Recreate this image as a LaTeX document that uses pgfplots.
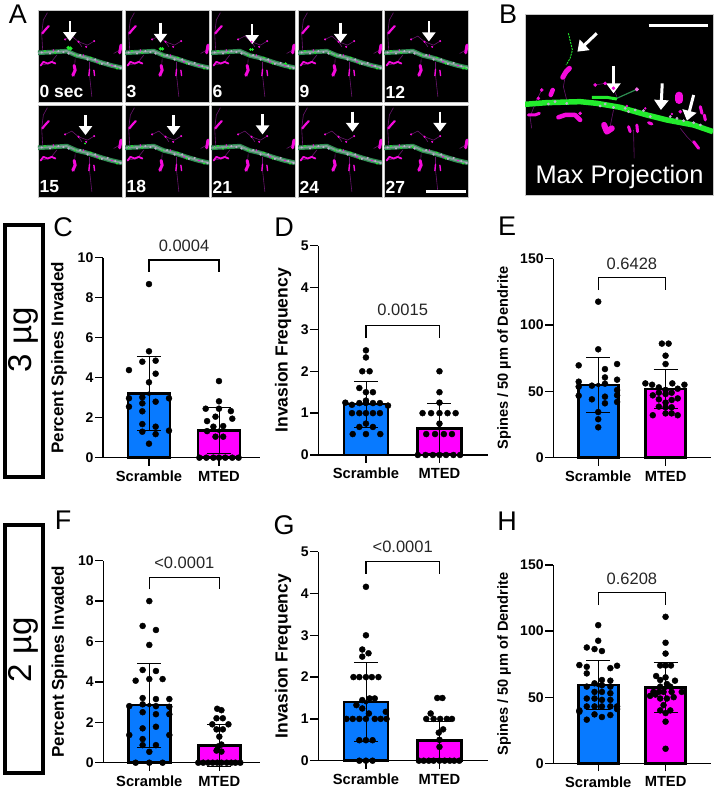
\documentclass[border=0pt]{standalone}
\usepackage{fontspec}
\setmainfont{Liberation Sans}
\usepackage{pgfplots}
\pgfplotsset{compat=1.18}
\usetikzlibrary{arrows.meta}

\definecolor{gpblue}{RGB}{8,122,255}
\definecolor{gpmag}{RGB}{255,0,255}
\definecolor{spine}{RGB}{245,10,220}
\definecolor{thinspine}{RGB}{105,20,110}
\definecolor{dend}{RGB}{45,140,80}
\definecolor{mott}{RGB}{190,175,205}
\definecolor{brightg}{RGB}{35,235,45}

\pgfplotsset{
  gp/.style={
    scale only axis, clip=false,
    axis x line=bottom, axis y line=left,
    axis line style={-, line width=1.3pt},
    tick align=outside, major tick length=8pt,
    tick style={line width=1.3pt, black},
    xtick={0,1}, xticklabels={Scramble,MTED},
    ymin=0, bar width=42pt,
    /pgf/number format/assume math mode=true,
    yticklabel style={font=\bfseries\fontsize{14}{14}\selectfont, inner sep=1.5pt},
    xticklabel style={font=\bfseries\fontsize{14.7}{15}\selectfont, inner sep=1pt, yshift=-4pt},
  },
  bluebar/.style={ybar, bar shift=0pt, fill=gpblue, draw=black, line width=2.6pt},
  magbar/.style={ybar, bar shift=0pt, fill=gpmag, draw=black, line width=2.6pt},
  dots/.style={only marks, mark=*, mark size=3pt, black},
  sd/.style={only marks, mark=none, black, error bars/.cd, y dir=both, y explicit,
    error bar style={line width=.8pt, black},
    error mark options={rotate=90, mark size=12pt, line width=.8pt, black}},
  bracket/.style={black, line width=1.4pt, mark=none},
  mic/.style={scale only axis, ticks=none, clip=true, y dir=reverse,
    axis background/.style={fill=black},
    axis line style={draw=black!22, line width=.8pt}},
  micA/.style={mic, width=84pt, height=92pt, xmin=114, xmax=365, ymin=30, ymax=305},
  sp/.style={spine, line cap=round, line join=round, line width=#1},
  tn/.style={thinspine, line width=.6pt},
}
\newcommand{\ptxt}[3]{\node[font=\fontsize{16.5}{17}\selectfont, black!85] at (axis cs:#1,#2) {#3};}

% shared contents of the time lapse frames, in the first frame's zoomed pixels
\newcommand{\spinesA}{%
  \addplot[tn] coordinates {(142,38)(130,60)(125,100)(128,150)};
  \addplot[tn] coordinates {(195,118)(215,108)(235,125)(245,140)};
  \addplot[tn] coordinates {(235,125)(262,135)(282,123)};
  \addplot[tn] coordinates {(225,175)(222,230)};
  \addplot[tn] coordinates {(268,185)(268,225)(275,290)};
  \addplot[tn] coordinates {(170,165)(150,190)(120,195)};
  \addplot[tn] coordinates {(340,160)(358,150)};
  \addplot[dend, line width=4.6pt] coordinates {(114,158)(150,156)(200,153)(230,166)(260,173)(300,186)(330,195)(365,203)};
  \addplot[mott, opacity=.55, line width=2pt] coordinates {(114,158)(150,156)(200,153)(230,166)(260,173)(300,186)(330,195)(365,203)};
  \addplot[only marks, mark=*, mark size=.8pt, mott, mark options={draw=none}] coordinates {(125,157)(150,160)(175,153)(205,160)(240,165)(262,178)(285,178)(305,191)(322,188)(345,198)(360,203)(190,156)};
  \addplot[only marks, mark=*, mark size=.7pt, brightg, mark options={draw=none}] coordinates {(135,153)(165,158)(225,165)(272,172)(298,190)(350,205)};
  \addplot[only marks, mark=*, mark size=.6pt, spine, mark options={draw=none}] coordinates {(160,150)(250,165)(290,185)(335,196)};
  \addplot[sp=2.2pt] coordinates {(127,100)(135,90)(146,78)};
  \addplot[sp=1.8pt] coordinates {(122,196)(130,185)(143,190)(155,185)(166,190)};
  \addplot[sp=3pt] coordinates {(222,196)(225,210)(218,225)};
  \addplot[sp=1.4pt] coordinates {(268,207)(266,226)};
  \addplot[sp=1.4pt] coordinates {(281,210)(283,226)};
  \addplot[sp=3pt] coordinates {(362,135)(358,158)};
  \addplot[only marks, mark=*, mark size=.8pt, spine, mark options={draw=none}] coordinates {(195,118)(235,125)(282,123)(258,140)};
}

\newcommand{\frameA}[7]{%
  \begin{axis}[micA, at={(#1pt,#2pt)}, anchor=south west]
    \spinesA
    \addplot[only marks, mark=*, mark size=#6pt, brightg, mark options={draw=none}] coordinates {#7};
    \draw[white, line width=2.4pt, -{Triangle[width=13pt,length=9pt]}] (axis cs:#4,#5-60) -- (axis cs:#4,#5);
    \node[white, anchor=west, inner sep=0pt, font=\bfseries\fontsize{17.5}{18}\selectfont] at (axis cs:118,275) {#3};
  \end{axis}
}

\begin{document}
\begin{tikzpicture}
\fill[white] (0,0) rectangle (715pt,790pt);
\path[use as bounding box] (0,0) rectangle (715pt,790pt);

% time lapse frames
\frameA{38}{688}{0 sec}{209}{123}{1.8}{(205,143)(211,145)}
\frameA{125}{688}{3}{220}{128}{1.5}{(220,146)(226,146)}
\frameA{211}{688}{6}{237}{132}{1.1}{(232,148)(238,148)(337,190)}
\frameA{298}{688}{9}{241}{128}{.7}{(210,157)}
\frameA{384}{688}{12}{248}{124}{.7}{(355,202)(360,205)}
\frameA{38}{593}{15}{256}{120}{.7}{(255,145)}
\frameA{125}{593}{18}{259}{120}{.7}{(125,158)}
\frameA{211}{593}{21}{268}{118}{.7}{(125,158)(150,160)}
\frameA{298}{593}{24}{277}{110}{.7}{(240,163)}
\frameA{384}{593}{27}{281}{110}{.7}{(200,155)}
% scale bar in the last frame
\begin{axis}[micA, at={(384pt,593pt)}, anchor=south west, axis background/.style={}, axis line style={draw=none}]
  \addplot[white, line width=3pt] coordinates {(238,288)(358,288)};
\end{axis}

% max projection
\begin{axis}[mic, at={(525pt,595pt)}, anchor=south west, width=188pt, height=181pt,
    xmin=135, xmax=698, ymin=42, ymax=585]
  \addplot[tn] coordinates {(258,215)(250,260)(260,300)};
  \addplot[tn] coordinates {(185,270)(170,300)(150,350)(155,385)};
  \addplot[tn] coordinates {(345,255)(375,250)(400,265)(410,290)};
  \addplot[tn] coordinates {(400,330)(390,380)};
  \addplot[tn] coordinates {(460,390)(462,475)};
  \addplot[tn] coordinates {(600,385)(620,410)(650,440)};
  \addplot[sp=5pt] coordinates {(248,232)(258,215)(268,205)};
  \addplot[sp=4.5pt] coordinates {(235,352)(255,345)(285,345)(300,360)};
  \addplot[sp=3pt] coordinates {(145,345)(165,345)(178,340)};
  \addplot[sp=4.5pt] coordinates {(212,285)(218,270)};
  \addplot[sp=6pt] coordinates {(372,375)(380,395)(395,385)};
  \addplot[sp=3pt] coordinates {(445,380)(450,395)};
  \addplot[sp=3pt] coordinates {(470,375)(472,395)};
  \addplot[sp=8pt] coordinates {(597,287)(597,300)};
  \addplot[sp=3pt] coordinates {(660,320)(665,340)};
  \addplot[sp=3pt] coordinates {(672,345)(675,360)};
  \addplot[sp=3pt] coordinates {(640,425)(655,445)};
  \addplot[sp=3pt] coordinates {(505,368)(515,372)};
  \addplot[only marks, mark=*, mark size=1.6pt, spine, mark options={draw=none}] coordinates {(185,270)(175,295)(345,255)(375,250)(400,265)(300,340)(600,335)};
  \addplot[brightg, line width=.9pt, dash pattern=on 2pt off 1pt] coordinates {(265,100)(277,150)(270,175)(258,195)};
  \addplot[dend, line width=1.2pt] coordinates {(410,295)(470,268)};
  \addplot[only marks, mark=*, mark size=1.8pt, spine!60!white, mark options={draw=none}] coordinates {(470,268)};
  \addplot[brightg, line width=5.5pt] coordinates {(135,313)(200,308)(300,305)(350,310)(420,322)(500,345)(560,360)(640,375)(698,395)};
  \addplot[brightg, line width=3pt] coordinates {(335,292)(380,292)(410,297)};
  \addplot[only marks, mark=*, mark size=1.2pt, mott, mark options={draw=none}] coordinates {(205,312)(260,310)(360,318)(375,312)(435,325)(445,335)(490,332)(510,350)(570,350)(590,355)(640,368)(660,375)(225,305)(400,322)(465,330)(610,362)};
  \addplot[only marks, mark=*, mark size=1pt, spine, mark options={draw=none}] coordinates {(440,318)(495,325)(575,342)};
  \draw[white, line width=3pt, -{Triangle[width=14pt,length=10pt]}] (axis cs:350,100) -- (axis cs:292,155);
  \draw[white, line width=3pt, -{Triangle[width=14pt,length=10pt]}] (axis cs:400,198) -- (axis cs:400,280);
  \draw[white, line width=3pt, -{Triangle[width=14pt,length=10pt]}] (axis cs:546,250) -- (axis cs:542,330);
  \draw[white, line width=3pt, -{Triangle[width=14pt,length=10pt]}] (axis cs:640,285) -- (axis cs:620,362);
  \addplot[white, line width=3pt] coordinates {(505,78)(682,78)};
  \node[white, font=\fontsize{25.4}{26}\selectfont] at (axis cs:418,530) {Max Projection};
\end{axis}

% panel C
\begin{axis}[gp, at={(103pt,332.3pt)}, anchor=south west, width=157pt, height=200pt,
    xmin=-0.657, xmax=1.586, ymax=10, ytick={0,2,4,6,8,10},
    every axis y label/.style={at={(axis description cs:-0.28,0.5)}, rotate=90, anchor=center},
    ylabel={\bfseries\fontsize{17}{17}\selectfont Percent Spines Invaded}]
  \addplot[bluebar] coordinates {(0,3.2)};
  \addplot[magbar] coordinates {(1,1.35)};
  \addplot[dots] coordinates {(0,8.68)(0,5.32)(-.095,4.8)(.095,4.85)(-.286,4.38)(.095,4.2)(0,3.77)(-.286,2.97)(-.095,3.02)(.095,2.8)(.286,2.97)(-.286,2.55)(-.095,2.32)(-.095,1.68)(.095,1.55)(-.095,1.3)(.286,1.35)(.095,1.18)(0,.7)(-.095,2.72)};
  \addplot[dots] coordinates {(1,3.83)(1,2.82)(.81,2.45)(1.17,2.33)(1.19,1.95)(.83,1.83)(.95,2.05)(1.06,1.58)(.92,1.55)(.83,1.33)(.95,1.05)(1.06,1.05)(1,2.45)(.72,0)(.82,0)(.92,0)(1,0)(1.09,0)(1.19,0)(1.28,0)};
  \addplot[sd] coordinates {(0,3.2) +- (0,1.84) (1,1.35) +- (0,1.15)};
  \addplot[bracket] coordinates {(0,9.3)(0,9.88)(1,9.88)(1,9.3)};
  \ptxt{.5}{10.6}{0.0004}
\end{axis}

% panel D
\begin{axis}[gp, at={(318.3pt,335pt)}, anchor=south west, width=169.7pt, height=209.3pt, bar width=44pt,
    xmin=-0.648, xmax=1.66, ymax=5, ytick={0,1,2,3,4,5},
    every axis y label/.style={at={(axis description cs:-0.208,0.5)}, rotate=90, anchor=center},
    ylabel={\bfseries\fontsize{17.5}{18}\selectfont Invasion Frequency}]
  \addplot[bluebar] coordinates {(0,1.22)};
  \addplot[magbar] coordinates {(1,.64)};
  \addplot[dots] coordinates {(0,2.5)(0,2.33)(-.05,2)(.05,2)(-.09,1.6)(0,1.5)(.095,1.5)(0,1.3)(-.28,1.25)(-.19,1.2)(-.09,1.24)(0,1.25)(.095,1.24)(.19,1.24)(.3,1.18)(-.19,1)(-.09,1)(0,1)(.095,1)(.19,1)(0,.75)(-.09,.67)(.095,.67)(-.18,.5)(0,.5)(.195,.5)};
  \addplot[dots] coordinates {(1,2)(1,1.5)(1,1.25)(.77,1)(.886,1)(1,1)(1.11,1)(1.22,1)(1,.75)(.82,.5)(.94,.5)(1.06,.5)(1.17,.5)(.705,0)(.81,0)(.91,0)(1,0)(1.09,0)(1.19,0)(1.28,0)};
  \addplot[sd] coordinates {(0,1.22) +- (0,.55) (1,.64) +- (0,.6)};
  \addplot[bracket] coordinates {(0,2.79)(0,3.1)(1,3.1)(1,2.79)};
  \ptxt{.5}{3.46}{0.0015}
\end{axis}

% panel E
\begin{axis}[gp, at={(553.3pt,332.3pt)}, anchor=south west, width=157.4pt, height=199pt, bar width=40pt,
    xmin=-0.667, xmax=1.67, ymax=150, ytick={0,50,100,150},
    every axis y label/.style={at={(axis description cs:-0.313,0.5)}, rotate=90, anchor=center},
    ylabel={\bfseries\fontsize{14.6}{15}\selectfont Spines / 50 µm of Dendrite}]
  \addplot[bluebar] coordinates {(0,54.8)};
  \addplot[magbar] coordinates {(1,51.8)};
  \addplot[dots] coordinates {(0,117.6)(0,81.7)(-.29,69.6)(.28,70.6)(.1,66.8)(.1,60.5)(-.29,57.3)(.28,58.8)(-.094,54.3)(.1,55.8)(-.29,53.5)(.28,51)(-.29,46.7)(-.094,44)(.1,46)(.28,47)(.28,42)(.1,41)(0,34.4)(0,29)(0,22.9)};
  \addplot[dots] coordinates {(.945,86)(1.045,86)(1,76.9)(1,70.6)(.70,56)(.80,55)(.90,53)(1.1,56)(1.28,55)(1,51)(1.18,52)(.81,47)(.90,49)(1,48)(1.09,49)(.90,44)(1,41.5)(1.09,43.5)(1.18,44.7)(.90,38.5)(1.09,38)(.81,32)(1,33.4)(1.09,33.4)(1.18,32)(1,38)};
  \addplot[sd] coordinates {(0,54.8) +- (0,20.7) (1,51.8) +- (0,15)};
  \addplot[bracket] coordinates {(0,126.4)(0,135.7)(1,135.7)(1,126.4)};
  \ptxt{.5}{146.5}{0.6428}
\end{axis}

% panel F
\begin{axis}[gp, at={(103.3pt,27.3pt)}, anchor=south west, width=156.7pt, height=202pt,
    xmin=-0.657, xmax=1.581, ymax=10, ytick={0,2,4,6,8,10},
    every axis y label/.style={at={(axis description cs:-0.28,0.5)}, rotate=90, anchor=center},
    ylabel={\bfseries\fontsize{17}{17}\selectfont Percent Spines Invaded}]
  \addplot[bluebar] coordinates {(0,2.85)};
  \addplot[magbar] coordinates {(1,.84)};
  \addplot[dots] coordinates {(0,8)(-.095,6.77)(.095,6.57)(0,5.83)(-.095,4.59)(.095,4.54)(-.195,4.06)(0,4.14)(.19,4.14)(-.095,3.2)(.095,3.15)(.286,3.15)(-.286,2.8)(-.095,2.89)(.095,2.8)(.286,2.77)(-.095,2.5)(.095,2.4)(.286,2.4)(-.095,1.7)(.095,1.78)(-.286,1.37)(.286,1.37)(-.095,1.17)(-.095,.87)(.095,.87)(0,.54)(-.195,0)(0,0)(.19,0)};
  \addplot[dots] coordinates {(.97,2.67)(1.03,2.6)(.96,2.2)(1.05,2.2)(.9,1.9)(1.13,1.9)(.96,1.65)(1.05,1.65)(1,1.29)(1.03,.9)(.98,.8)(.96,.6)(1.03,.55)(.7,0)(.77,0)(.84,0)(.905,0)(.97,0)(1.03,0)(1.105,0)(1.17,0)(1.23,0)(1.3,0)};
  \addplot[sd] coordinates {(0,2.85) +- (0,2.07) (1,.84) +- (0,1.04)};
  \addplot[bracket] coordinates {(0,8.58)(0,9.17)(1,9.17)(1,8.58)};
  \ptxt{.5}{9.9}{<0.0001}
\end{axis}

% panel G
\begin{axis}[gp, at={(318.3pt,29.3pt)}, anchor=south west, width=169.7pt, height=209pt, bar width=44pt,
    xmin=-0.648, xmax=1.66, ymax=5, ytick={0,1,2,3,4,5},
    every axis y label/.style={at={(axis description cs:-0.208,0.5)}, rotate=90, anchor=center},
    ylabel={\bfseries\fontsize{17.5}{18}\selectfont Invasion Frequency}]
  \addplot[bluebar] coordinates {(0,1.4)};
  \addplot[magbar] coordinates {(1,.49)};
  \addplot[dots] coordinates {(0,4.16)(0,3)(-.05,2.66)(.035,2.57)(-.05,2.49)(-.17,2)(-.09,2)(0,2)(.08,2)(.17,2)(-.05,1.45)(.05,1.49)(.12,1.49)(-.13,1.33)(-.05,1.25)(.04,1.13)(.27,1.17)(-.265,1)(-.18,1)(-.09,1)(0,1)(.12,1)(.2,1)(.28,1)(-.09,.49)(0,.49)(.09,.49)(-.09,0)(0,0)(.09,0)};
  \addplot[dots] coordinates {(.97,1.5)(1.04,1.5)(.88,1.13)(.82,1)(.92,1)(1.01,1)(1.1,1)(1.17,1)(1.05,.75)(.99,.67)(1,.5)(1,.33)(.72,0)(.785,0)(.855,0)(.92,0)(1,0)(1.07,0)(1.14,0)(1.2,0)(1.27,0)};
  \addplot[sd] coordinates {(0,1.4) +- (0,.94) (1,.49) +- (0,.44)};
  \addplot[bracket] coordinates {(0,4.47)(0,4.76)(1,4.76)(1,4.47)};
  \ptxt{.5}{5.12}{<0.0001}
\end{axis}

% panel H
\begin{axis}[gp, at={(553.3pt,26.7pt)}, anchor=south west, width=157.4pt, height=198.3pt, bar width=40pt,
    xmin=-0.667, xmax=1.67, ymax=150, ytick={0,50,100,150},
    every axis y label/.style={at={(axis description cs:-0.313,0.5)}, rotate=90, anchor=center},
    ylabel={\bfseries\fontsize{14.6}{15}\selectfont Spines / 50 µm of Dendrite}]
  \addplot[bluebar] coordinates {(0,59.2)};
  \addplot[magbar] coordinates {(1,57.2)};
  \addplot[dots] coordinates {(0,104.5)(0,92.7)(-.17,87.6)(-.055,86.4)(.055,84.9)(-.28,74.3)(.28,73.8)(-.17,73)(.18,72)(-.17,68)(.055,63)(.18,62.5)(-.055,60.5)(.055,59)(-.17,58)(.18,58)(-.055,54)(.055,54)(.18,53)(-.17,49)(-.055,49)(.055,48)(.18,48)(-.17,43)(-.055,43)(.055,43)(.18,43)(.28,43)(-.28,39)(-.055,37)(.055,35)(.18,36.5)(-.17,33)(-.28,40)(.28,41)};
  \addplot[dots] coordinates {(1,110.8)(1,91.2)(1,83)(.92,74)(1,74)(1.08,74)(.86,66)(.92,63)(1.14,62.5)(1,65)(1.02,60)(.92,58)(1.07,58)(.82,54)(.9,54)(.97,54)(1.09,54)(1.24,54)(.77,51)(.85,52)(.92,49)(1.02,49)(1.12,50)(.97,44)(.92,40)(1.07,40)(1,38)(1,31.5)(1,11)};
  \addplot[sd] coordinates {(0,59.2) +- (0,18.5) (1,57.2) +- (0,19)};
  \addplot[bracket] coordinates {(0,119.6)(0,129)(1,129)(1,119.6)};
  \ptxt{.5}{139.8}{0.6208}
\end{axis}

% dose boxes
\draw[line width=3.6pt] (4.8pt,565pt) rectangle (43.2pt,313pt);
\node[rotate=90, font=\fontsize{33}{33}\selectfont] at (23.5pt,450pt) {3 µg};
\draw[line width=3.6pt] (4.8pt,265pt) rectangle (43.2pt,17pt);
\node[rotate=90, font=\fontsize{33}{33}\selectfont] at (23.5pt,140pt) {2 µg};

% panel letters
\foreach \t/\x/\y in {A/18/14,B/508/14,C/63/227,D/284/227,E/507/226,F/63/520,G/284/525,H/507/521}{
  \pgfmathsetmacro{\yy}{790-\y}
  \node[font=\fontsize{27}{27}\selectfont, inner sep=0pt] at (\x pt,\yy pt) {\t};
}
\end{tikzpicture}
\end{document}
